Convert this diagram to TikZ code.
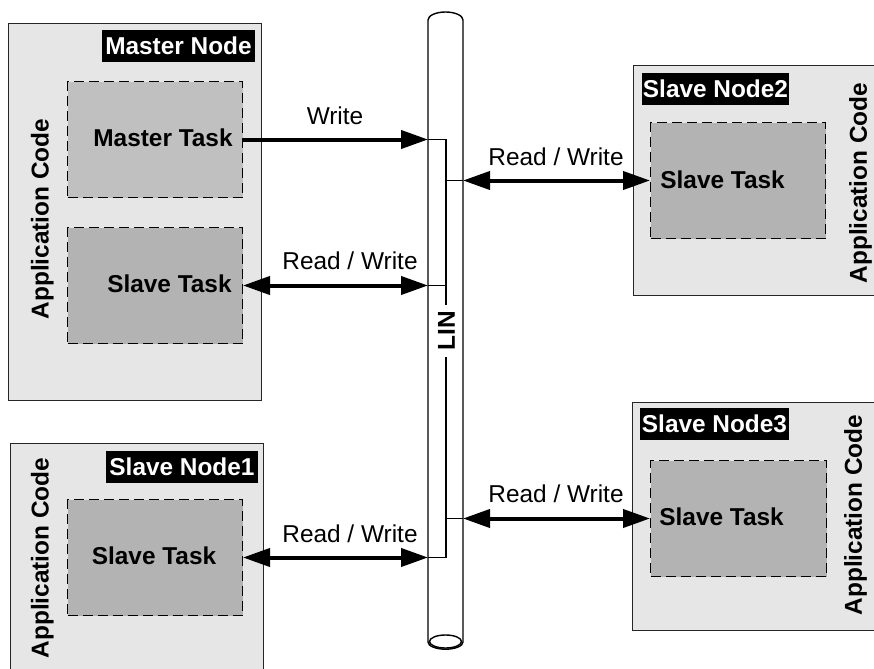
\documentclass[tikz,border=0pt]{standalone}
\usepackage{fontspec}
\setmainfont{Liberation Sans}
\usetikzlibrary{arrows.meta}
\definecolor{outerfill}{HTML}{E6E6E6}
\definecolor{mtaskfill}{HTML}{C0C0C0}
\definecolor{staskfill}{HTML}{B3B3B3}
\tikzset{
  outerbox/.style={draw=black!85, line width=0.65pt, fill=outerfill, anchor=north west, inner sep=0pt},
  taskbox/.style={draw=black, line width=0.5pt, dash pattern=on 5pt off 2.5pt, anchor=north west, inner sep=0pt, minimum width=87.5pt, minimum height=58pt},
  lbl/.style={font=\fontsize{12.2}{14}\selectfont, inner sep=0pt, text height=8.75pt, text depth=0pt},
  blbl/.style={lbl, font=\fontsize{12.2}{14}\selectfont\bfseries},
  tagbox/.style={blbl, fill=black, text=white, minimum height=16pt},
  appcode/.style={blbl, rotate=90},
  conn/.style={line width=2pt, -{Triangle[length=13.5pt,width=9pt]}},
  dconn/.style={line width=2pt, {Triangle[length=13.5pt,width=9pt]}-{Triangle[length=13.5pt,width=9pt]}},
  busline/.style={line width=0.7pt, black},
  tapline/.style={line width=0.6pt, black},
}
\begin{document}
\begin{tikzpicture}[x=0.5pt,y=-0.5pt]
\useasboundingbox (0,0) rectangle (874,669);

% outer node boxes
\node[outerbox, minimum width=126.5pt, minimum height=188.5pt] (master) at (8,23) {};
\node[outerbox, minimum width=126.5pt, minimum height=115pt] (node1) at (10,443) {};
\node[outerbox, minimum width=122.5pt, minimum height=115pt] (node2) at (633,65) {};
\node[outerbox, minimum width=123pt, minimum height=114pt] (node3) at (632,402) {};

% tags
\node[tagbox, minimum width=76.5pt] (mtag) at (178.5,46) {Master Node};
\node[tagbox, minimum width=76pt] (tag1) at (182,467) {Slave Node1};
\node[tagbox, minimum width=73.5pt] (tag2) at (715.5,89) {Slave Node2};
\node[tagbox, minimum width=74.5pt] (tag3) at (714.5,424) {Slave Node3};

% task boxes
\node[taskbox, fill=mtaskfill] (mtask) at (67,81) {};
\node[taskbox, fill=staskfill] (mstask) at (67,227) {};
\node[taskbox, fill=staskfill] (s1task) at (67,499) {};
\node[taskbox, fill=staskfill] (s2task) at (650,122) {};
\node[taskbox, fill=staskfill, minimum width=88pt] (s3task) at (650,460) {};

% task texts
\node[blbl, anchor=east] (mtasktxt) at (233,138) {Master Task};
\node[blbl, anchor=east] (mstasktxt) at (232,284) {Slave Task};
\node[blbl] (s1tasktxt) at (154,556) {Slave Task};
\node[blbl, anchor=west] (s2tasktxt) at (660,180) {Slave Task};
\node[blbl, anchor=west] (s3tasktxt) at (659,517) {Slave Task};

% application code
\node[appcode] (mapp) at (40,219) {Application Code};
\node[appcode] (app1) at (40,558) {Application Code};
\node[appcode] (app2) at (858,183) {Application Code};
\node[appcode] (app3) at (853,515) {Application Code};

% bus cylinder
\coordinate (busL) at (428,0);
\coordinate (busM) at (446,0);
\coordinate (busR) at (463,0);
\draw[busline] (428,642) -- (428,20) arc[start angle=180, end angle=0, x radius=8.75pt, y radius=4pt]
  -- (463,642) arc[start angle=0, end angle=-180, x radius=8.75pt, y radius=3.6pt];
\draw[busline] (445.5,641.5) ellipse[x radius=8pt, y radius=3.25pt];

% inner taps
\draw[tapline] (mtask.east -| busL) -- (mtask.east -| busM) -- (s1task.east -| busM) -- (s1task.east -| busL);
\draw[tapline] (mstask.east -| busL) -- (mstask.east -| busM);
\draw[tapline] (s2task.west -| busR) -- (s2task.west -| busM);
\draw[tapline] (s3task.west -| busR) -- (s3task.west -| busM);
\node[blbl, rotate=90, fill=white, inner xsep=3pt, inner ysep=1pt] (lin) at (446,331) {LIN};

% connectors
\draw[conn] (mtask.east) -- (mtask.east -| busL);
\draw[dconn] (mstask.east) -- (mstask.east -| busL);
\draw[dconn] (s1task.east) -- (s1task.east -| busL);
\draw[dconn] (s2task.west -| busR) -- (s2task.west);
\draw[dconn] (s3task.west -| busR) -- (s3task.west);

% connector labels
\node[lbl] (wlbl) at (335,116) {Write};
\node[lbl] (rw0) at (350,261) {Read / Write};
\node[lbl] (rw1) at (350,534) {Read / Write};
\node[lbl] (rw2) at (556,157) {Read / Write};
\node[lbl] (rw3) at (556,494) {Read / Write};
\end{tikzpicture}
\end{document}
